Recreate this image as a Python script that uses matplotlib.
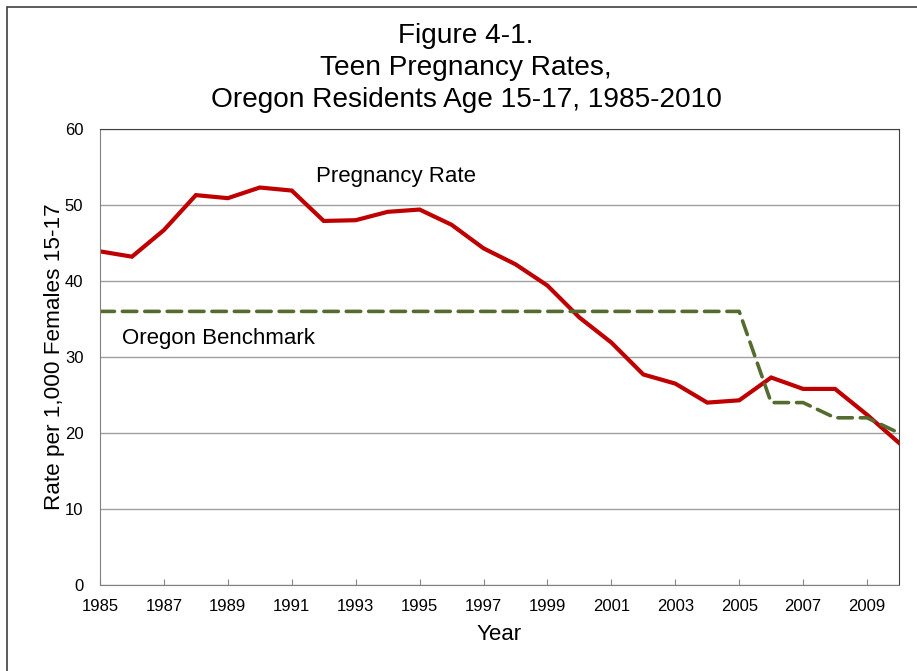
import matplotlib.pyplot as plt
from matplotlib.patches import Rectangle

plt.rcParams['font.family'] = ['Liberation Sans', 'DejaVu Sans']

# ==== data
years = list(range(1985, 2011))
preg_rate = [43.9, 43.2, 46.7, 51.3, 50.9, 52.3, 51.9, 47.9, 48.0, 49.1,
             49.4, 47.4, 44.3, 42.2, 39.4, 35.2, 31.9, 27.7, 26.5, 24.0,
             24.3, 27.3, 25.8, 25.8, 22.4, 18.7]
benchmark = [36] * 21 + [24, 24, 22, 22, 20]

x_ticks = list(range(1985, 2010, 2))
y_ticks = [0, 10, 20, 30, 40, 50, 60]

W, H = 917, 671
fig = plt.figure(figsize=(W / 100, H / 100), dpi=100)
ax = fig.add_axes([100 / W, 1 - 585 / H, (899 - 100) / W, (585 - 129) / H])

# outer chart frame
fig.patches.append(Rectangle((7 / W, -0.05), 1.2, 1 - 7 / H + 0.05, transform=fig.transFigure,
                             fill=False, edgecolor='#404040', linewidth=1.2))

ax.plot(years, preg_rate, color='#C00000', linewidth=3, solid_joinstyle='miter')
ax.plot(years, benchmark, color='#556B2F', linewidth=2.6, linestyle=(0, (4, 2.2)),
        dash_capstyle='round')

ax.set_xlim(1985, 2010)
ax.set_ylim(0, 60)
ax.set_xticks(x_ticks)
ax.set_yticks(y_ticks)
ax.tick_params(axis='x', direction='in', length=4, color='#888888', labelsize=12, pad=10)
ax.tick_params(axis='y', length=0, labelsize=12, pad=12)
ax.yaxis.grid(True, color='#A0A0A0', linewidth=1)
ax.set_axisbelow(True)
for side in ['left', 'bottom']:
    ax.spines[side].set_color('#808080')
for side in ['top', 'right']:
    ax.spines[side].set_color('#404040')

ax.set_xlabel('Year', fontsize=16, labelpad=7)
ax.set_ylabel('Rate per 1,000 Females 15-17', fontsize=16.2, labelpad=0)

ax.text(1991.76, 53.8, 'Pregnancy Rate', fontsize=16, va='center')
ax.text(1985.69, 32.4, 'Oregon Benchmark', fontsize=16, va='center')

fig.text(466 / W, 1 - 68 / H,
         'Figure 4-1.\nTeen Pregnancy Rates,\nOregon Residents Age 15-17, 1985-2010',
         ha='center', va='center', fontsize=20.2, linespacing=1.29)

fig.savefig('out.png', dpi=100)
